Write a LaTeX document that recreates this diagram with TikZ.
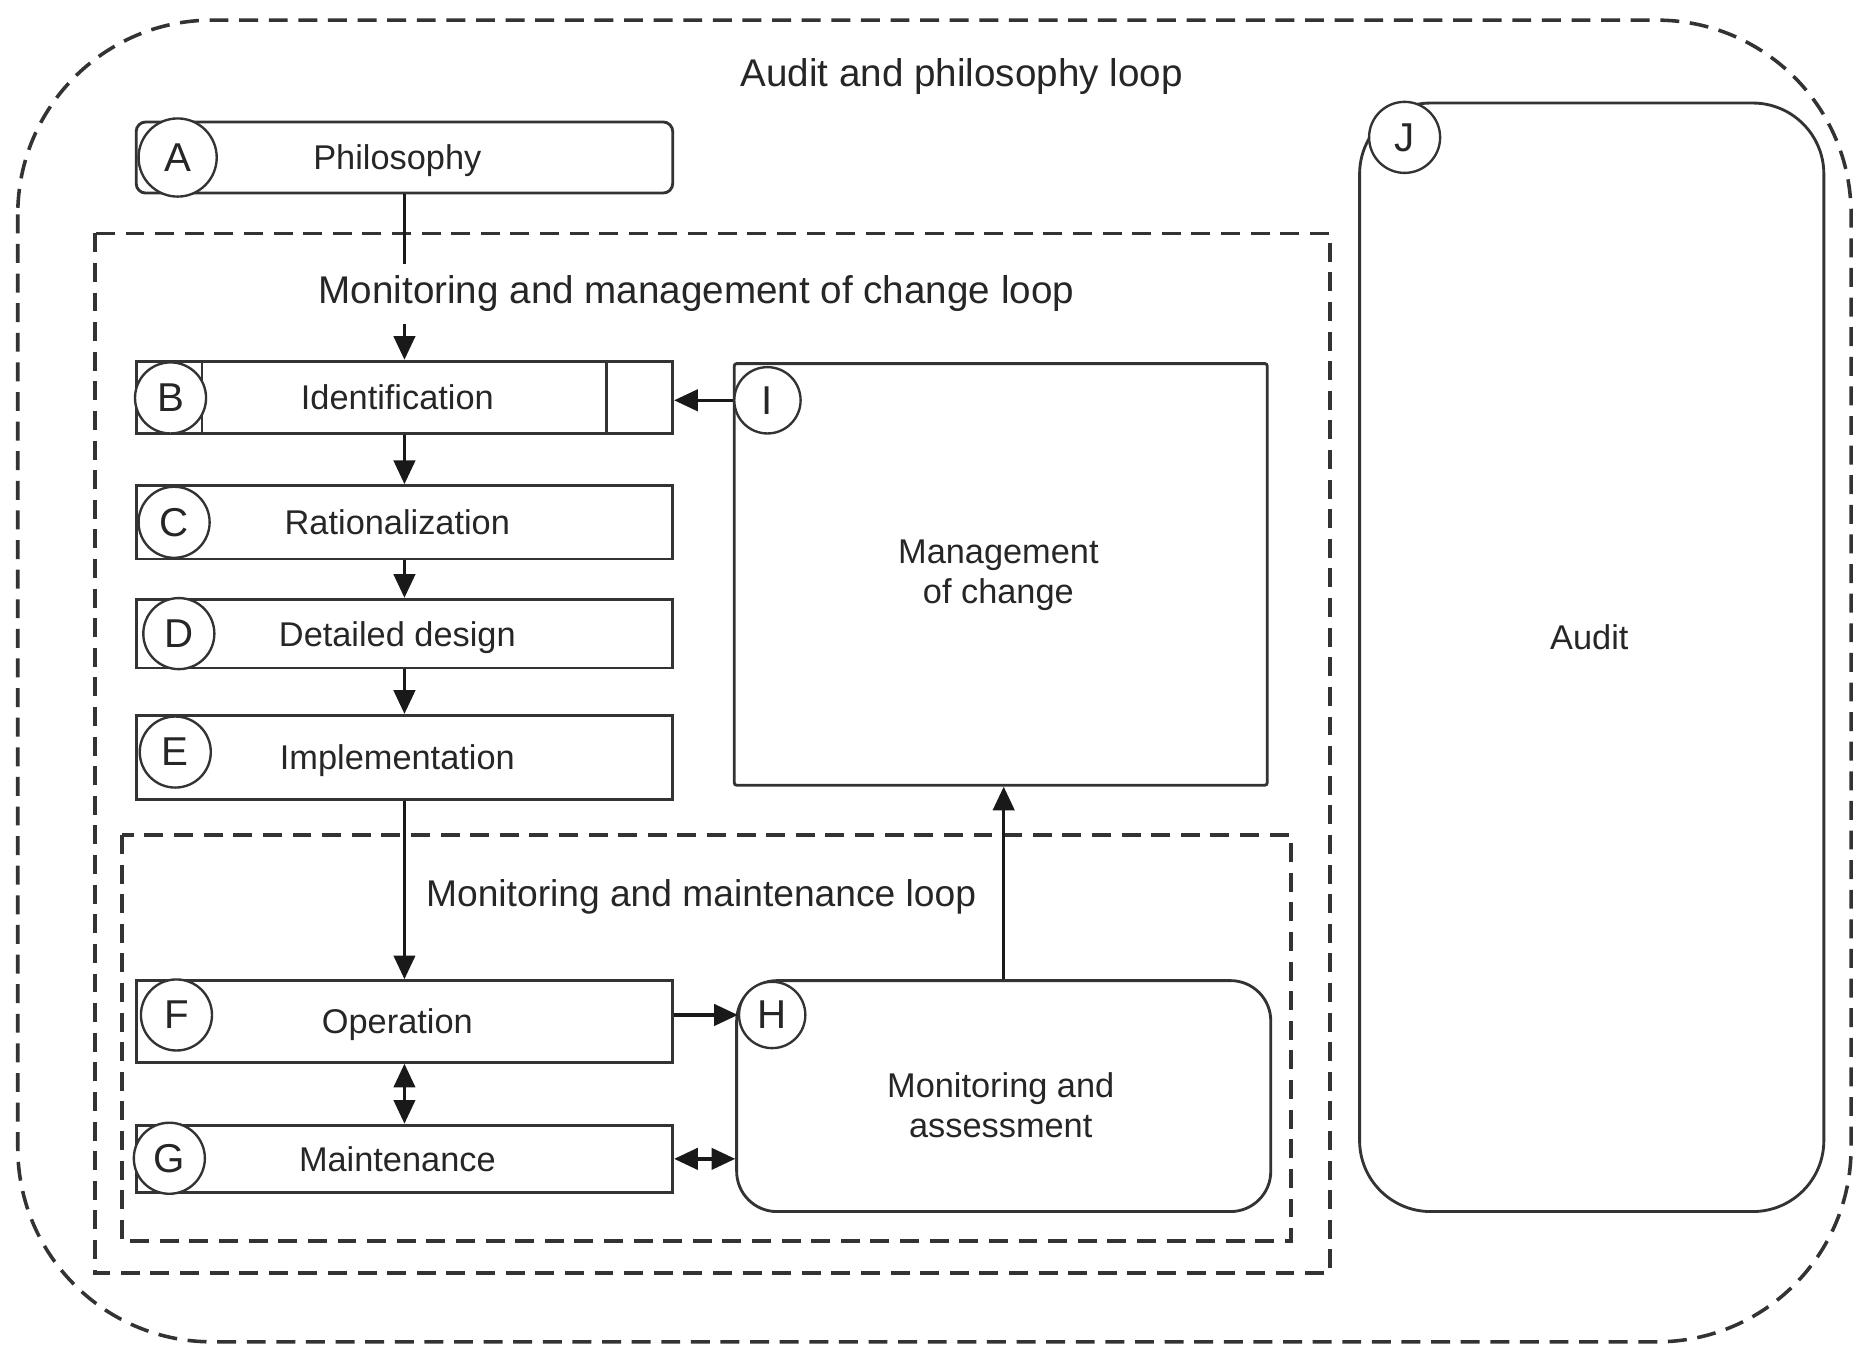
\documentclass[tikz,border=0pt]{standalone}
\usepackage{fontspec}
\setmainfont{Liberation Sans}
\usetikzlibrary{arrows.meta}
\begin{document}
\begin{tikzpicture}[x=0.5pt,y=-0.5pt,
  every node/.style={text=black!85},
  box/.style={draw=black!80, line width=1.2pt, minimum width=226.5pt, inner sep=0pt, text depth=0pt,
    font=\fontsize{14.5}{17}\selectfont, execute at begin node={\hspace*{-6pt}}},
  bigbox/.style={draw=black!80, line width=1.2pt, inner sep=0pt, align=center,
    font=\fontsize{14.5}{17}\selectfont},
  circ/.style={circle, draw=black!80, line width=1pt, fill=white, minimum size=30pt,
    inner sep=0pt, font=\fontsize{17}{20}\selectfont},
  frame/.style={draw=black!80, line width=1.5pt, dash pattern=on 8pt off 4.5pt},
  title/.style={font=\fontsize{16.3}{19}\selectfont},
  arr/.style={draw=black!90, line width=1.4pt, -{Triangle[length=10pt,width=9pt]}},
  darr/.style={draw=black!90, line width=1.4pt, {Triangle[length=10pt,width=9pt]}-{Triangle[length=10pt,width=9pt]}}
]
\useasboundingbox (0,0) rectangle (1568,1135);

% loops
\draw[frame, rounded corners=82pt] (15,17) rectangle (1563,1133);
\draw[frame] (80,197) rectangle (1123,1075);
\draw[frame] (103,705) rectangle (1090,1048);

\node[title] (t1) at (812,65) {Audit and philosophy loop};
\node[title, font=\fontsize{15.7}{18}\selectfont] (t3) at (592,757) {Monitoring and maintenance loop};

% left column boxes
\node[box, rounded corners=4pt, minimum height=30pt] (A) at (341.5,133) {Philosophy};
\node[box, minimum height=30.5pt] (B) at (341.5,335.5) {Identification};
\draw[draw=black!80, line width=1pt] ([xshift=28.5pt]B.north west) -- ([xshift=28.5pt]B.south west);
\draw[draw=black!80, line width=1pt] ([xshift=-28.5pt]B.north east) -- ([xshift=-28.5pt]B.south east);
\node[box, minimum height=31pt] (C) at (341.5,441) {Rationalization};
\node[box, minimum height=29pt] (D) at (341.5,535) {Detailed design};
\node[box, minimum height=35.5pt] (E) at (341.5,639.5) {Implementation};
\node[box, minimum height=34.5pt] (F) at (341.5,862.5) {Operation};
\node[box, minimum height=28.5pt] (G) at (341.5,978.5) {Maintenance};

% right boxes
\node[bigbox, rounded corners=17pt, minimum width=225.5pt, minimum height=97.5pt] (H) at (847.5,925.5) {};
\node (Ht) at (845,933) [align=center, font=\fontsize{14.5}{17}\selectfont] {Monitoring and\\assessment};
\node[bigbox, rounded corners=1pt, minimum width=225pt, minimum height=178pt] (I) at (845,485) {};
\node (It) at (843,486) [align=center, font=\fontsize{14.5}{17}\selectfont] {Management\\of change};
\node[bigbox, rounded corners=30pt, minimum width=196pt, minimum height=468pt] (J) at (1344,555) {};
\node (Jt) at (1342,538) [font=\fontsize{14.5}{17}\selectfont] {Audit};

% letter circles
\node[circ, minimum size=33pt] (cA) at (150,133) {A};
\node[circ] (cB) at (144,336) {B};
\node[circ] (cC) at (147,441) {C};
\node[circ] (cD) at (151,535) {D};
\node[circ] (cE) at (148,635) {E};
\node[circ] (cF) at (149,857) {F};
\node[circ] (cG) at (143,978) {G};
\node[circ, minimum size=28pt] (cH) at (652,857) {H};
\node[circ, minimum size=28pt] (cI) at (648,338) {I};
\node[circ] (cJ) at (1186,116) {J};

% connectors
\draw[arr] (A.south) -- (B.north);
\draw[arr] (B.south) -- (C.north);
\draw[arr] (C.south) -- (D.north);
\draw[arr] (D.south) -- (E.north);
\draw[arr] (E.south) -- (F.north);
\draw[darr] (F.south) -- (G.north);
\draw[arr] (F.east |- cH.west) -- (cH.west);
\draw[darr] (G.east) -- (G.east -| H.west);
\draw[arr] (H.north) -- (H.north |- I.south);
\draw[arr] (cI.west) -- (B.east |- cI.west);

% title over the A-B connector
\node[title, fill=white, inner xsep=1pt, inner ysep=5pt] (t2) at (588,248) {Monitoring and management of change loop};
\end{tikzpicture}
\end{document}
